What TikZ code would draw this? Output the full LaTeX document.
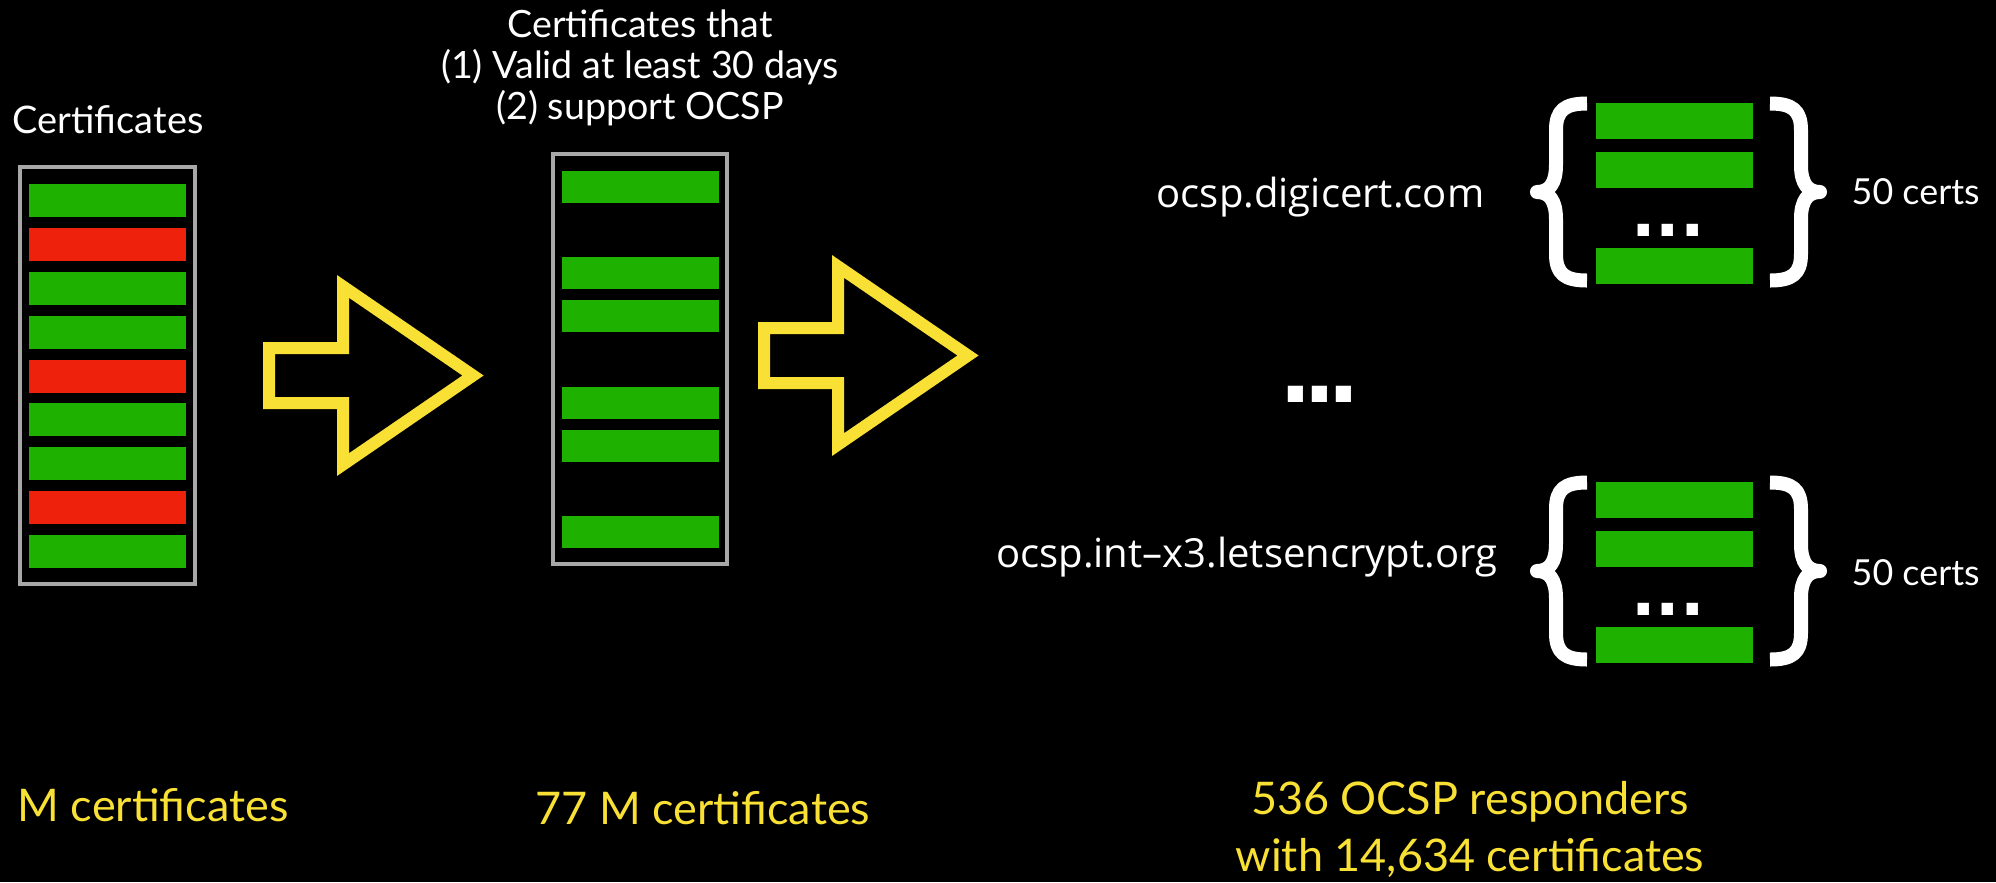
\documentclass[tikz,border=0pt]{standalone}
\usepackage{fontspec}
\setmainfont{Lato}
\newfontfamily\urlfont{Open Sans}
\newfontfamily\dotfont{DejaVu Sans}

\definecolor{certgreen}{RGB}{30,177,0}
\definecolor{certred}{RGB}{238,34,12}
\definecolor{keyyellow}{RGB}{249,224,52}
\definecolor{boxgray}{RGB}{168,168,168}

\begin{document}
\begin{tikzpicture}[
    bar/.style={
        rectangle,
        minimum width=1.57cm,
        minimum height=0.33cm,
        inner sep=0pt,
        fill=certgreen
    },
    holder/.style={
        rectangle,
        draw=boxgray,
        line width=0.04cm,
        minimum width=1.75cm,
        inner sep=0pt
    },
    blockarrow/.style={
        draw=keyyellow,
        line width=0.12cm,
        line join=miter
    },
    brace/.style={
        draw=white,
        line width=0.14cm,
        line join=round
    },
    title/.style={
        text=white,
        inner sep=0pt,
        font=\fontsize{10.8}{13}\selectfont
    },
    url/.style={
        text=white,
        inner sep=0pt,
        font=\urlfont\fontsize{11.4}{13}\selectfont
    },
    count/.style={
        text=keyyellow,
        inner sep=0pt,
        font=\fontsize{12.8}{16.2}\selectfont
    },
    dots/.style={
        text=white,
        inner sep=0pt,
        font=\dotfont\bfseries\fontsize{18.35}{20}\selectfont
    }
]

% Background
\fill[black] (0,0) rectangle (19.96,-8.82);

% All certificates
\node[title, anchor=base west] (alltitle) at (0.12,-1.33) {Certificates};
\node[holder, minimum height=4.17cm] (allcerts) at (1.075,-3.755) {};
\foreach \c [count=\i] in {certgreen,certred,certgreen,certgreen,certred,certgreen,certgreen,certred,certgreen}
    \node[bar, fill=\c] (all\i) at (1.075,{-2.005-0.43875*(\i-1)}) {};

% Filtered certificates
\node[title, anchor=north, align=center, font=\fontsize{10.7}{11.66}\selectfont] (kepttitle) at (6.40,-0.09)
    {Certificates that\\(1) Valid at least 30 days\\(2) support OCSP};
\node[holder, minimum width=1.74cm, minimum height=4.10cm] (keptcerts) at (6.40,-3.59) {};
\foreach \i in {1,3,4,6,7,9}
    \node[bar, minimum height=0.32cm] (kept\i) at (6.405,{-1.87-0.43125*(\i-1)}) {};

% Block arrows
\foreach \p in {(2.69,-3.755),(7.64,-3.555)}
    \draw[blockarrow] \p ++(0,0.275) -- ++(0.74,0) -- ++(0,0.616) -- ++(1.30,-0.891)
        -- ++(-1.30,-0.891) -- ++(0,0.616) -- ++(-0.74,0) -- cycle;

% Responders
\node[url, anchor=base east] (digicert) at (14.85,-2.07) {ocsp.digicert.com};
\node[url, anchor=base east] (letsencrypt) at (14.98,-5.67) {ocsp.int–x3.letsencrypt.org};

\foreach \y [count=\i] in {-1.21,-1.70,-2.66}
    \node[bar, minimum height=0.36cm] (digi\i) at (16.745,\y) {};
\foreach \y [count=\i] in {-5.00,-5.49,-6.45}
    \node[bar, minimum height=0.36cm] (lets\i) at (16.745,\y) {};
\node[dots, anchor=base] (digidots) at (16.68,-2.36) {...};
\node[dots, anchor=base] (letsdots) at (16.68,-6.15) {...};

\foreach \y in {-1.92,-5.71}
    \foreach \x/\s in {15.37/1,18.20/-1} {
        \begin{scope}[shift={(\x,\y)}, xscale=\s]
            \draw[brace] (0.50,0.885) .. controls (0.28,0.885) and (0.19,0.82) .. (0.19,0.62)
                -- (0.19,0.27) .. controls (0.19,0.08) and (0.12,0) .. (0,0)
                .. controls (0.12,0) and (0.19,-0.08) .. (0.19,-0.27)
                -- (0.19,-0.62) .. controls (0.19,-0.82) and (0.28,-0.885) .. (0.50,-0.885);
        \end{scope}
    }

\node[title, anchor=base west, font=\fontsize{10.2}{12}\selectfont] (digicertn) at (18.51,-2.04) {50 certs};
\node[title, anchor=base west, font=\fontsize{10.2}{12}\selectfont] (letsencryptn) at (18.51,-5.85) {50 certs};

\node[dots, anchor=base, font=\dotfont\bfseries\fontsize{24.5}{26}\selectfont] (moredots) at (13.20,-4.02)
    {.\kern-0.09cm.\kern-0.09cm.};

% Counts
\node[count, anchor=base west] (allcount) at (0.17,-8.21) {M certificates};
\node[count, anchor=base west] (keptcount) at (5.35,-8.24) {77 M certificates};
\node[count, anchor=north, align=center] (respcount) at (14.70,-7.81)
    {536 OCSP responders\\with 14,634 certificates};

\end{tikzpicture}
\end{document}
